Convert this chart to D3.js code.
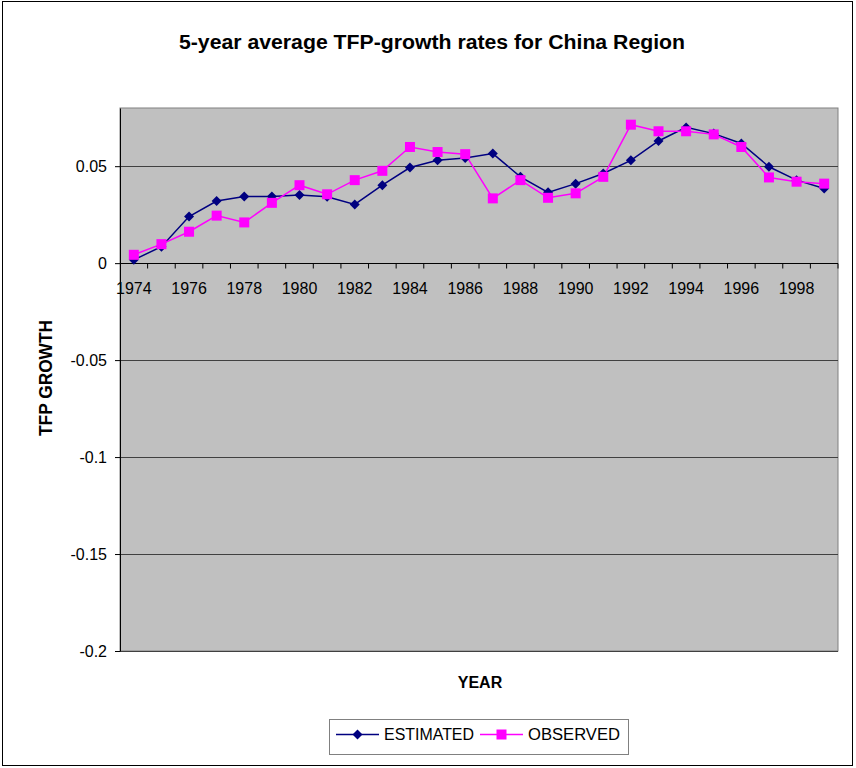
<!DOCTYPE html>
<html>
<head>
<meta charset="utf-8">
<script src="https://cdn.jsdelivr.net/npm/d3@7"></script>
<style>
  body { margin: 0; background: #fff; }
  text { font-family: Arial, "Liberation Sans", sans-serif; }
</style>
</head>
<body>
<div id="chart"></div>
<script>
// data
var years = d3.range(1974, 2000);
var estimated = [0.0017, 0.0085, 0.024, 0.032, 0.0344, 0.0344, 0.0351, 0.0342, 0.0303, 0.0402,
                 0.0493, 0.053, 0.0542, 0.0565, 0.0445, 0.0365, 0.041, 0.0462, 0.053, 0.063,
                 0.070, 0.0668, 0.0617, 0.0497, 0.0428, 0.0385];
var observed = [0.0043, 0.0098, 0.0162, 0.0245, 0.021, 0.0311, 0.0402, 0.0355, 0.0428, 0.0476,
                0.0599, 0.0573, 0.0562, 0.0334, 0.0428, 0.0337, 0.036, 0.0445, 0.0714, 0.068,
                0.068, 0.0664, 0.0599, 0.0442, 0.042, 0.041];
var yTicks = [-0.2, -0.15, -0.1, -0.05, 0, 0.05];
var seriesNames = ["ESTIMATED", "OBSERVED"];

var width = 856,
    height = 768;

// plot area
var plotLeft = 120, plotRight = 838, plotTop = 108, plotBottom = 651;

var svg = d3.select("#chart")
  .append("svg")
    .attr("width", width)
    .attr("height", height);

// outer chart border
svg.append("rect")
    .attr("x", 2.5).attr("y", 1.5)
    .attr("width", 850).attr("height", 764)
    .attr("fill", "#fff")
    .attr("stroke", "#000")
    .attr("stroke-width", 1);

var x = d3.scaleBand()
    .domain(years)
    .range([plotLeft, plotRight]);

var y = d3.scaleLinear()
    .domain([-0.2, 0.08])
    .range([plotBottom, plotTop]);

// grey plot background
svg.append("rect")
    .attr("x", plotLeft).attr("y", plotTop)
    .attr("width", plotRight - plotLeft).attr("height", plotBottom - plotTop)
    .attr("fill", "#c0c0c0")
    .attr("stroke", "#808080")
    .attr("stroke-width", 1);

// gridlines
svg.selectAll(".grid")
  .data(yTicks.filter(function(d) { return d !== 0; }))
  .enter()
  .append("line")
    .attr("x1", plotLeft).attr("x2", plotRight)
    .attr("y1", function(d) { return Math.round(y(d)) + 0.5; })
    .attr("y2", function(d) { return Math.round(y(d)) + 0.5; })
    .attr("stroke", "#404040")
    .attr("stroke-width", 1);

// y axis
var yAxis = svg.append("g")
    .attr("transform", "translate(" + plotLeft + ",0)")
    .call(d3.axisLeft(y).tickValues(yTicks).tickSize(5).tickSizeOuter(0).tickPadding(8)
      .tickFormat(function(d) { return d === 0 ? "0" : String(d); }));
yAxis.select(".domain").attr("stroke", "#000");
yAxis.selectAll("text").style("font-size", "16px").attr("fill", "#000");

// x axis at zero with ticks between categories
var xAxis = svg.append("g")
    .attr("transform", "translate(0," + (Math.round(y(0)) + 0.5) + ")");
xAxis.append("line")
    .attr("x1", plotLeft).attr("x2", plotRight)
    .attr("stroke", "#000");
xAxis.selectAll(".tk")
  .data(years)
  .enter()
  .append("line")
    .attr("x1", function(d) { return x(d) + x.bandwidth(); })
    .attr("x2", function(d) { return x(d) + x.bandwidth(); })
    .attr("y1", 0).attr("y2", 5)
    .attr("stroke", "#000");
xAxis.selectAll(".lbl")
  .data(years.filter(function(d, i) { return i % 2 === 0; }))
  .enter()
  .append("text")
    .attr("x", function(d) { return x(d) + x.bandwidth() / 2; })
    .attr("y", 30)
    .attr("text-anchor", "middle")
    .style("font-size", "16px")
    .text(function(d) { return d; });

// lines and markers
var line = d3.line()
  .x(function(d, i) { return x(years[i]) + x.bandwidth() / 2; })
  .y(function(d) { return y(d); });

svg.append("path")
    .datum(estimated)
    .attr("d", line)
    .attr("fill", "none")
    .attr("stroke", "#000080")
    .attr("stroke-width", 1.5);

svg.append("path")
    .datum(observed)
    .attr("d", line)
    .attr("fill", "none")
    .attr("stroke", "#ff00ff")
    .attr("stroke-width", 1.5);

svg.selectAll(".est")
  .data(estimated)
  .enter()
  .append("path")
    .attr("d", "M0,-5L5,0L0,5L-5,0Z")
    .attr("transform", function(d, i) { return "translate(" + (x(years[i]) + x.bandwidth() / 2) + "," + y(d) + ")"; })
    .attr("fill", "#000080");

svg.selectAll(".obs")
  .data(observed)
  .enter()
  .append("rect")
    .attr("x", function(d, i) { return x(years[i]) + x.bandwidth() / 2 - 5; })
    .attr("y", function(d) { return y(d) - 5; })
    .attr("width", 10).attr("height", 10)
    .attr("fill", "#ff00ff");

// title
svg.append("text")
    .attr("x", 432).attr("y", 49)
    .attr("text-anchor", "middle")
    .style("font-size", "20px")
    .style("font-weight", "bold")
    .attr("textLength", 506)
    .attr("lengthAdjust", "spacingAndGlyphs")
    .text("5-year average TFP-growth rates for China Region");

// axis titles
svg.append("text")
    .attr("x", 480).attr("y", 688)
    .attr("text-anchor", "middle")
    .style("font-size", "16px")
    .style("font-weight", "bold")
    .text("YEAR");

svg.append("text")
    .attr("transform", "translate(52,378) rotate(-90)")
    .attr("text-anchor", "middle")
    .style("font-size", "18px")
    .style("font-weight", "bold")
    .attr("textLength", 116)
    .attr("lengthAdjust", "spacingAndGlyphs")
    .text("TFP GROWTH");

// legend
var legend = svg.append("g");
legend.append("rect")
    .attr("x", 329.5).attr("y", 719.5)
    .attr("width", 299).attr("height", 35)
    .attr("fill", "#fff")
    .attr("stroke", "#808080")
    .attr("stroke-width", 1);

var legendX = [336, 480];
var legendText = [90, 92];
var legendColors = ["#000080", "#ff00ff"];
seriesNames.forEach(function(name, i) {
  var lx = legendX[i];
  legend.append("line")
      .attr("x1", lx).attr("x2", lx + 43)
      .attr("y1", 734.5).attr("y2", 734.5)
      .attr("stroke", legendColors[i])
      .attr("stroke-width", 1.5);
  if (i === 0) {
    legend.append("path")
        .attr("d", "M0,-5L5,0L0,5L-5,0Z")
        .attr("transform", "translate(" + (lx + 21.5) + ",734.5)")
        .attr("fill", legendColors[i]);
  } else {
    legend.append("rect")
        .attr("x", lx + 16.5).attr("y", 729.5)
        .attr("width", 10).attr("height", 10)
        .attr("fill", legendColors[i]);
  }
  legend.append("text")
      .attr("x", lx + 48).attr("y", 740)
      .style("font-size", "16px")
      .attr("textLength", legendText[i])
      .attr("lengthAdjust", "spacingAndGlyphs")
      .text(name);
});
</script>
</body>
</html>
